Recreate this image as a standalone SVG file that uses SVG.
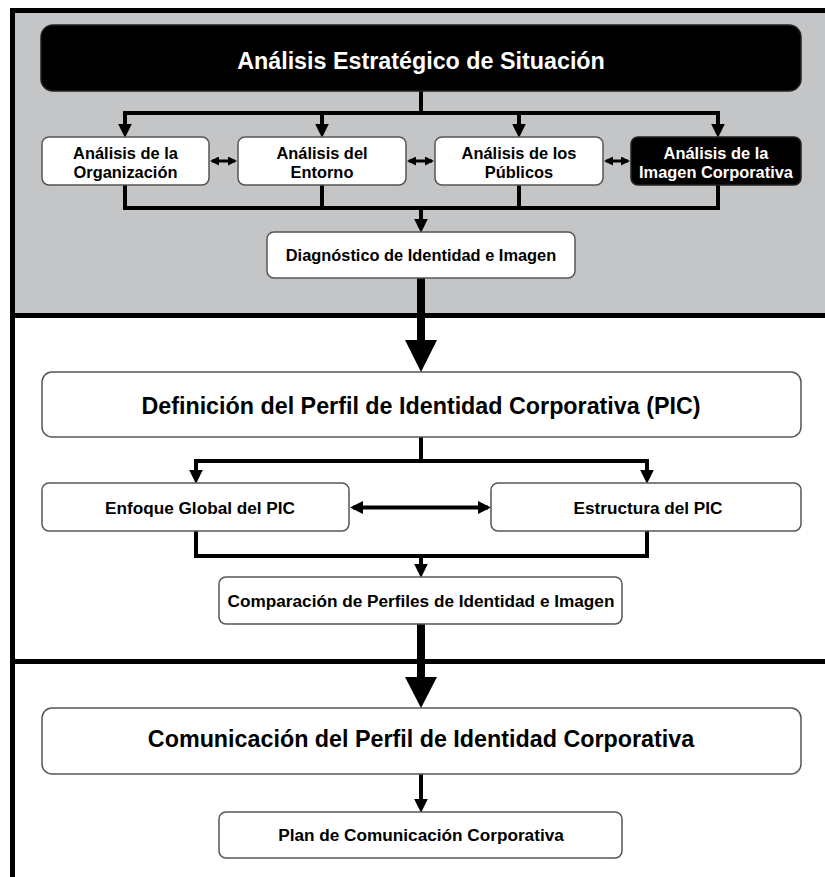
<svg xmlns="http://www.w3.org/2000/svg" width="825" height="877" viewBox="0 0 825 877">
<style>
.box{fill:#fff;stroke:#555;stroke-width:1.5}
.dark{fill:#000;stroke:#222;stroke-width:1.5}
.t{font-family:"Liberation Sans",Arial,sans-serif;font-weight:bold;text-anchor:middle;fill:#000}
.big{font-size:23.3px}
.sm{font-size:16.4px}
.md{font-size:17.2px}
.w{fill:#fff}
.ln{fill:none;stroke:#000;stroke-width:4}
.thick{fill:none;stroke:#000;stroke-width:8}
.sep{fill:none;stroke:#000;stroke-width:5}
</style>
<defs>
<marker id="ah" markerUnits="userSpaceOnUse" markerWidth="14" markerHeight="14" viewBox="0 0 12 12" refX="8" refY="6" orient="auto">
<path d="M0,0 L12,6 L0,12 Z" fill="#000"/>
</marker>
<marker id="ahs" markerUnits="userSpaceOnUse" markerWidth="9" markerHeight="9" viewBox="0 0 9 9" refX="7" refY="4.5" orient="auto-start-reverse">
<path d="M0,0 L9,4.5 L0,9 Z" fill="#000"/>
</marker>
<marker id="ahm" markerUnits="userSpaceOnUse" markerWidth="13" markerHeight="13" viewBox="0 0 13 13" refX="10" refY="6.5" orient="auto-start-reverse">
<path d="M0,0 L13,6.5 L0,13 Z" fill="#000"/>
</marker>
</defs>

<g id="frame">
<rect x="12.5" y="10.5" width="813" height="305" fill="#c4c5c7"/>
<path class="sep" d="M12.5,877 V10.5 H825"/>
<path class="sep" d="M12.5,315.5 H825"/>
<path class="sep" d="M12.5,661.5 H825"/>
</g>

<g id="connectors">
<path class="ln" d="M421,91 V113"/>
<path class="ln" d="M123,113 H720"/>
<path class="ln" d="M125,113 V133" marker-end="url(#ah)"/>
<path class="ln" d="M322,113 V133" marker-end="url(#ah)"/>
<path class="ln" d="M519,113 V133" marker-end="url(#ah)"/>
<path class="ln" d="M718,113 V133" marker-end="url(#ah)"/>
<path class="ln" style="stroke-width:3" d="M212,161 H235" marker-start="url(#ahs)" marker-end="url(#ahs)"/>
<path class="ln" style="stroke-width:3" d="M409,161 H432" marker-start="url(#ahs)" marker-end="url(#ahs)"/>
<path class="ln" style="stroke-width:3" d="M606,161 H628" marker-start="url(#ahs)" marker-end="url(#ahs)"/>
<path class="ln" d="M125,185 V208 H718 V185"/>
<path class="ln" d="M322,185 V208"/>
<path class="ln" d="M519,185 V208"/>
<path class="ln" d="M421,208 V228" marker-end="url(#ah)"/>
<path class="thick" d="M421,278 V342"/>
<polygon points="405,340 437,340 421,372" fill="#000"/>
<path class="ln" d="M421,437 V461"/>
<path class="ln" d="M194,461 H649"/>
<path class="ln" d="M196,461 V479" marker-end="url(#ah)"/>
<path class="ln" d="M647,461 V479" marker-end="url(#ah)"/>
<path class="ln" d="M353,507.5 H488" marker-start="url(#ahm)" marker-end="url(#ahm)"/>
<path class="ln" d="M196,531 V556 H647 V531"/>
<path class="ln" d="M421,556 V573" marker-end="url(#ah)"/>
<path class="thick" d="M421,624 V679"/>
<polygon points="405,677 437,677 421,708" fill="#000"/>
<path class="ln" d="M421,774 V808" marker-end="url(#ah)"/>
</g>

<g id="n-analisis">
<rect class="dark" x="41" y="25" width="760" height="66" rx="12"/>
<text class="t big w" x="421" y="69">Análisis Estratégico de Situación</text>
</g>
<g id="n-organizacion">
<rect class="box" x="42" y="137" width="167" height="48" rx="7"/>
<text class="t sm" x="125.5" y="159">Análisis de la</text>
<text class="t sm" x="125.5" y="178">Organización</text>
</g>
<g id="n-entorno">
<rect class="box" x="238" y="137" width="168" height="48" rx="7"/>
<text class="t sm" x="322" y="159">Análisis del</text>
<text class="t sm" x="322" y="178">Entorno</text>
</g>
<g id="n-publicos">
<rect class="box" x="435" y="137" width="168" height="48" rx="7"/>
<text class="t sm" x="519" y="159">Análisis de los</text>
<text class="t sm" x="519" y="178">Públicos</text>
</g>
<g id="n-imagen">
<rect class="dark" x="631" y="137" width="170" height="48" rx="7"/>
<text class="t sm w" x="716" y="159">Análisis de la</text>
<text class="t sm w" x="716" y="178">Imagen Corporativa</text>
</g>
<g id="n-diagnostico">
<rect class="box" x="267" y="232" width="308" height="46" rx="7"/>
<text class="t sm" x="421" y="261">Diagnóstico de Identidad e Imagen</text>
</g>
<g id="n-pic">
<rect class="box" x="42" y="372" width="759" height="65" rx="10"/>
<text class="t big" x="421" y="414">Definición del Perfil de Identidad Corporativa (PIC)</text>
</g>
<g id="n-enfoque">
<rect class="box" x="42" y="483" width="307" height="48" rx="7"/>
<text class="t md" x="200" y="514">Enfoque Global del PIC</text>
</g>
<g id="n-estructura">
<rect class="box" x="491" y="483" width="310" height="48" rx="7"/>
<text class="t md" x="648" y="514">Estructura del PIC</text>
</g>
<g id="n-comparacion">
<rect class="box" x="219" y="577" width="403" height="47" rx="7"/>
<text class="t md" x="421" y="607">Comparación de Perfiles de Identidad e Imagen</text>
</g>
<g id="n-comunicacion">
<rect class="box" x="42" y="708" width="759" height="66" rx="10"/>
<text class="t big" x="421" y="747">Comunicación del Perfil de Identidad Corporativa</text>
</g>
<g id="n-plan">
<rect class="box" x="219" y="812" width="403" height="46" rx="7"/>
<text class="t md" x="421" y="841">Plan de Comunicación Corporativa</text>
</g>
</svg>
